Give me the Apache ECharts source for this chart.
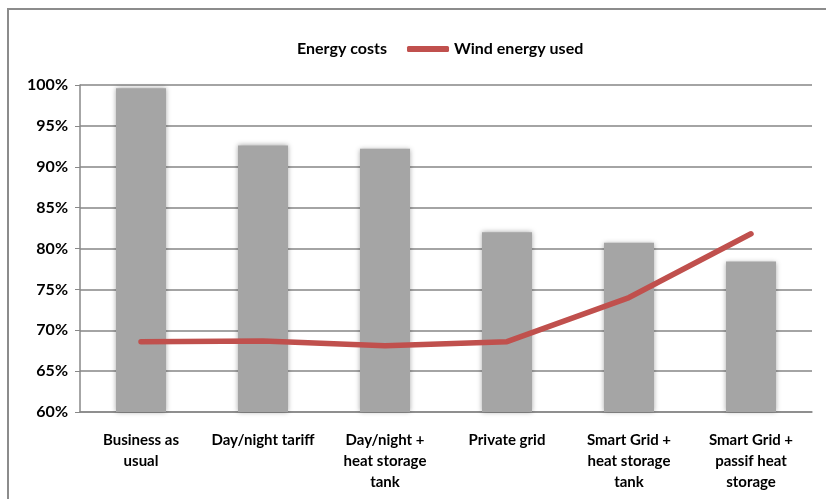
<!DOCTYPE html>
<html lang="en">
<head>
    <meta charset="UTF-8">
    <title>Energy costs / Wind energy used</title>
    <style>
        html, body { margin: 0; padding: 0; background: #fff; }
    </style>
</head>
<body>
<div id="main" style="width: 826px;height:499px;"></div>

<script src="https://cdn.jsdelivr.net/npm/echarts@6/dist/echarts.min.js"></script>

<script type="text/javascript">
    // data
    var categories = [
        'Business as\nusual',
        'Day/night tariff',
        'Day/night +\nheat storage\ntank',
        'Private grid',
        'Smart Grid +\nheat storage\ntank',
        'Smart Grid +\npassif heat\nstorage'
    ];
    var energyCosts = [99.6, 92.6, 92.2, 82.0, 80.7, 78.4];
    var windUsed = [68.6, 68.7, 68.1, 68.6, 74.0, 81.8];

    var font = 'Lato, "Open Sans", sans-serif';
    var myChart = echarts.init(document.getElementById('main'));

    var option = {
        backgroundColor: '#fff',
        textStyle: { fontFamily: font },
        graphic: [{
            type: 'rect',
            shape: { x: 8, y: 9, width: 840, height: 520 },
            style: { fill: 'none', stroke: '#8c8c8c', lineWidth: 2 },
            silent: true
        }],
        legend: {
            left: 245,
            top: 36,
            itemWidth: 42,
            itemHeight: 6,
            itemGap: 20,
            textStyle: { fontFamily: font, fontWeight: 'bold', fontSize: 16, color: '#000' },
            data: [
                { name: 'Energy costs', icon: 'none' },
                { name: 'Wind energy used', icon: 'roundRect', itemStyle: { color: '#c0504d' } }
            ]
        },
        grid: { left: 80, top: 85, right: 14, bottom: 87 },
        xAxis: {
            type: 'category',
            data: categories,
            axisLine: { lineStyle: { color: '#888', width: 1.5 } },
            axisTick: { length: 5, lineStyle: { color: '#888' } },
            axisLabel: {
                interval: 0,
                margin: 18,
                lineHeight: 21,
                color: '#000',
                fontFamily: font,
                fontWeight: 'bold',
                fontSize: 15
            }
        },
        yAxis: {
            type: 'value',
            min: 60,
            max: 100,
            interval: 5,
            axisLine: { show: true, lineStyle: { color: '#888', width: 1.5 } },
            axisTick: { show: true, length: 5, lineStyle: { color: '#888' } },
            splitLine: { lineStyle: { color: '#868686', width: 1.5 } },
            axisLabel: {
                margin: 12,
                color: '#000',
                fontFamily: font,
                fontWeight: 'bold',
                fontSize: 16,
                formatter: '{value}%'
            }
        },
        series: [{
            name: 'Energy costs',
            type: 'bar',
            data: energyCosts,
            barWidth: 50,
            itemStyle: {
                color: '#a5a5a5',
                shadowBlur: 5,
                shadowColor: 'rgba(0,0,0,0.35)'
            }
        }, {
            name: 'Wind energy used',
            type: 'line',
            data: windUsed,
            symbol: 'none',
            z: 5,
            lineStyle: { color: '#c0504d', width: 5.5, cap: 'round', join: 'round' },
            itemStyle: { color: '#c0504d' }
        }]
    };
    myChart.setOption(option);
</script>
</body>
</html>
